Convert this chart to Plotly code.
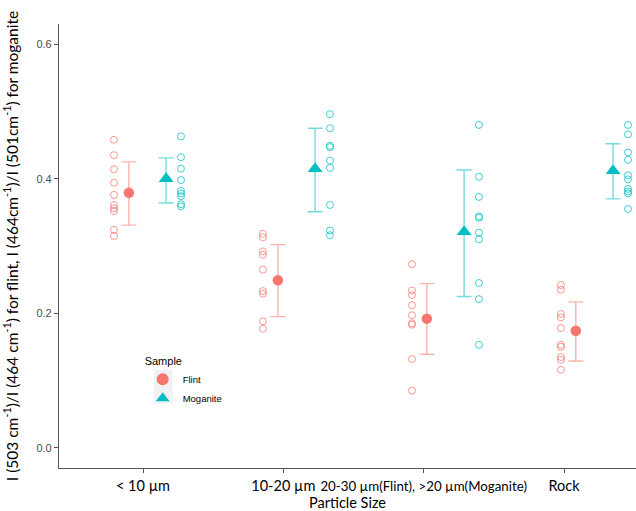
import plotly.graph_objects as go

categories = ["< 10 µm", "10-20 µm", "20-30 µm(Flint), >20 µm(Moganite)", "Rock"]
samples = ["Flint", "Moganite"]

flint_points = [
    [0.458, 0.435, 0.414, 0.394, 0.376, 0.361, 0.356, 0.352, 0.324, 0.315],
    [0.318, 0.313, 0.292, 0.287, 0.265, 0.233, 0.229, 0.188, 0.177],
    [0.273, 0.234, 0.227, 0.212, 0.197, 0.185, 0.183, 0.132, 0.085],
    [0.242, 0.235, 0.199, 0.194, 0.178, 0.153, 0.150, 0.135, 0.131, 0.116],
]
moganite_points = [
    [0.463, 0.432, 0.415, 0.398, 0.382, 0.378, 0.374, 0.362, 0.359],
    [0.496, 0.475, 0.449, 0.447, 0.427, 0.416, 0.361, 0.323, 0.316],
    [0.480, 0.403, 0.373, 0.344, 0.342, 0.320, 0.310, 0.245, 0.221, 0.153],
    [0.480, 0.466, 0.439, 0.428, 0.405, 0.399, 0.385, 0.381, 0.378, 0.355],
]
flint_mean = [0.379, 0.249, 0.192, 0.174]
flint_upper = [0.425, 0.302, 0.244, 0.217]
flint_lower = [0.331, 0.195, 0.139, 0.129]
moganite_mean = [0.400, 0.415, 0.321, 0.412]
moganite_upper = [0.431, 0.475, 0.413, 0.452]
moganite_lower = [0.364, 0.351, 0.225, 0.370]

y_ticks = [0.0, 0.2, 0.4, 0.6]

FLINT = "#F8766D"
MOG = "#00BFC4"

fig = go.Figure()

groups = [
    ("Flint", flint_points, flint_mean, flint_upper, flint_lower, FLINT,
     "rgba(248,118,109,0.55)", "rgba(248,118,109,0.75)", "circle", -1),
    ("Moganite", moganite_points, moganite_mean, moganite_upper, moganite_lower, MOG,
     "rgba(0,191,196,0.55)", "rgba(0,191,196,0.75)", "triangle-up", 1),
]

for name, pts, mean, up, lo, col, errcol, ptcol, sym, side in groups:
    px, py = [], []
    for i, vals in enumerate(pts):
        for v in vals:
            px.append(i + 1 + side * 0.225)
            py.append(v)
    fig.add_trace(go.Scatter(
        x=px, y=py, mode="markers", showlegend=False, hoverinfo="skip",
        marker=dict(symbol="circle-open", size=7, color=ptcol, line=dict(width=1, color=ptcol)),
    ))
    fig.add_trace(go.Scatter(
        x=[i + 1 + side * 0.125 for i in range(len(mean))], y=mean, mode="markers", name=name,
        marker=dict(symbol=sym, size=10.5 if sym == "circle" else 13, color=col),
        error_y=dict(type="data", symmetric=False,
                     array=[u - m for u, m in zip(up, mean)],
                     arrayminus=[m - l for m, l in zip(mean, lo)],
                     color=errcol, thickness=1.4, width=7.5),
    ))

# hidden trace carrying the category labels axis
fig.add_trace(go.Scatter(
    x=categories, y=flint_mean, xaxis="x2", mode="markers", showlegend=False,
    hoverinfo="skip", marker=dict(opacity=0),
))

ticktext = [c if len(c) < 15 else '<span style="font-size:13.3px">' + c + '</span>' for c in categories]

fig.update_layout(
    width=636, height=511,
    margin=dict(l=59, r=0, t=24, b=43),
    plot_bgcolor="white", paper_bgcolor="white",
    font=dict(family="Liberation Sans, Arial", color="#000000"),
    xaxis=dict(range=[0.406, 4.279], showticklabels=False, ticks="", showgrid=False,
               zeroline=False, showline=False, automargin=False),
    xaxis2=dict(overlaying="x", anchor="y", side="bottom", type="category",
                range=[-0.5986, 3.513], tickmode="array", tickvals=categories, ticktext=ticktext,
                ticks="outside", ticklen=4, tickcolor="#555555", showgrid=False, zeroline=False,
                showline=True, linecolor="#555555", linewidth=1.2, automargin=False,
                tickfont=dict(family="Lato, Open Sans", size=14.5, color="#000000"),
                title=dict(text="Particle Size",
                           font=dict(family="Lato, Open Sans", size=14.5, color="#000000"))),
    yaxis=dict(range=[-0.030, 0.630], tickvals=y_ticks, ticktext=[f"{t:.1f}" for t in y_ticks],
               ticks="outside", ticklen=4, tickcolor="#555555", showgrid=False, zeroline=False,
               showline=True, linecolor="#555555", linewidth=1.2, automargin=False,
               tickfont=dict(size=11, color="#4D4D4D"),
               title=dict(text="I (503 cm<sup>-1</sup>)/I (464 cm<sup>-1</sup>) for flint, I (464cm<sup>-1</sup>)/I (501cm<sup>-1</sup>) for moganite",
                          font=dict(family="Lato, Open Sans", size=15.5, color="#000000"))),
    legend=dict(title=dict(text="Sample", font=dict(size=11)), x=0.145, y=0.265,
                xanchor="left", yanchor="top", bgcolor="rgba(0,0,0,0)",
                font=dict(size=9.5, color="#000000"), itemsizing="constant"),
    shapes=[dict(type="rect", xref="paper", yref="paper", x0=0.165, x1=0.197, y0=0.145, y1=0.222,
                 fillcolor="#F2F2F2", line=dict(width=0), layer="below")],
)

fig.write_html("out.html", config={"displayModeBar": False},
               post_script="document.body.style.margin='0';document.body.style.overflow='hidden';")
